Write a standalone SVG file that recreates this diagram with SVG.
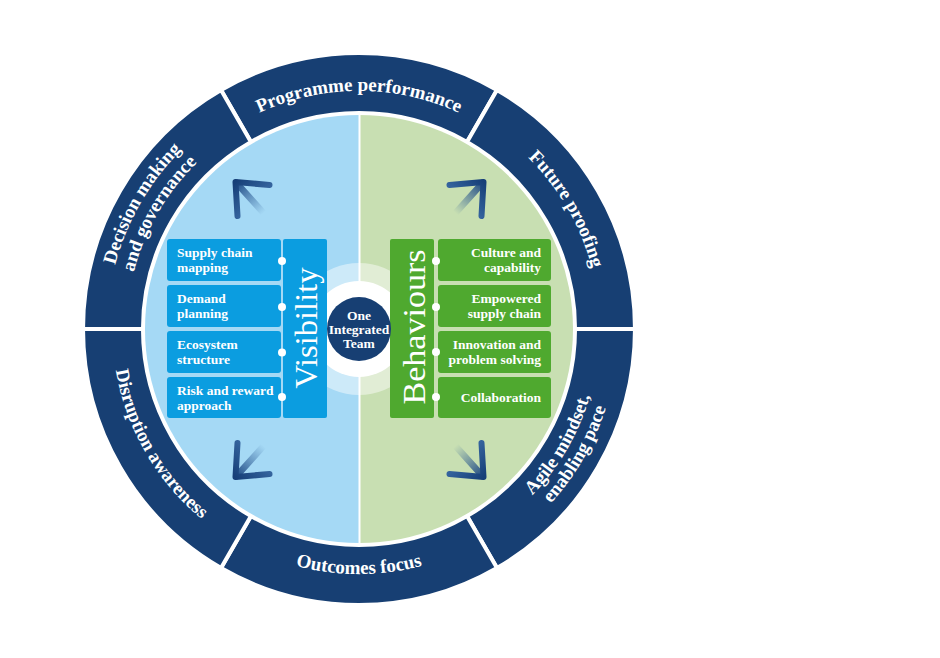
<svg xmlns="http://www.w3.org/2000/svg" xmlns:xlink="http://www.w3.org/1999/xlink" width="940" height="658" viewBox="0 0 940 658">
<style>
.seg{fill:#173f73;stroke:#fff;stroke-width:4}
.rt{font-family:"Liberation Serif","Times New Roman",serif;font-weight:bold;font-size:19px;fill:#fff}
.bt{font-family:"Liberation Serif","Times New Roman",serif;font-weight:bold;font-size:13.5px;fill:#fff}
.vt{font-family:"Liberation Serif","Times New Roman",serif;font-size:32px;fill:#fff}
.bb{fill:#0b9de0}
.gb{fill:#4fa92f}
.dot{fill:#fff}
.arm{fill:none;stroke:url(#armg);stroke-width:6;stroke-linecap:round;stroke-linejoin:round}
.shaft{fill:none;stroke:url(#shg);stroke-width:6.5;stroke-linecap:round}
</style>
<defs>
<path id="sector" d="M221 90 A276 276 0 0 1 497 90 L467 141.9 A216 216 0 0 0 251 141.9 Z"/>
<path id="cw238" d="M124.6 287.7 A238 238 0 0 1 593.4 287.7"/>
<path id="cw241" d="M121.7 287.2 A241 241 0 0 1 596.3 287.2"/>
<path id="cw252" d="M110.8 285.3 A252 252 0 0 1 607.2 285.3"/>
<path id="cw232" d="M130.5 288.7 A232 232 0 0 1 587.5 288.7"/>
<path id="ccw245" d="M117.7 371.5 A245 245 0 0 0 600.3 371.5"/>
<path id="ccw247" d="M115.8 371.9 A247 247 0 0 0 602.2 371.9"/>
<path id="ccw240" d="M122.6 370.7 A240 240 0 0 0 595.4 370.7"/>
<path id="ccw259" d="M103.9 374 A259 259 0 0 0 614.1 374"/>
<linearGradient id="armg" gradientUnits="userSpaceOnUse" x1="0" y1="0" x2="26" y2="26">
<stop offset="0" stop-color="#163f78"/><stop offset="1" stop-color="#3f70aa"/>
</linearGradient>
<linearGradient id="shg" gradientUnits="userSpaceOnUse" x1="0" y1="0" x2="28" y2="31">
<stop offset="0" stop-color="#1a4580" stop-opacity="1"/><stop offset="1" stop-color="#2a5a96" stop-opacity="0"/>
</linearGradient>
<g id="arrow">
<line class="shaft" x1="1" y1="1" x2="28" y2="31"/>
<polyline class="arm" points="34,3 0,0 2,34"/>
</g>
</defs>

<g id="ring">
<g id="programme-performance"><use href="#sector" class="seg"/><text class="rt"><textPath href="#cw238" startOffset="50%" text-anchor="middle">Programme performance</textPath></text></g>
<g id="future-proofing"><use href="#sector" class="seg" transform="rotate(60 359 329)"/><text class="rt" transform="rotate(60 359 329)"><textPath href="#cw241" startOffset="50%" text-anchor="middle">Future proofing</textPath></text></g>
<g id="agile-mindset"><use href="#sector" class="seg" transform="rotate(120 359 329)"/><text class="rt" transform="rotate(-60 359 329)"><textPath href="#ccw240" startOffset="50%" text-anchor="middle">Agile mindset,</textPath></text><text class="rt" transform="rotate(-60 359 329)"><textPath href="#ccw259" startOffset="50%" text-anchor="middle">enabling pace</textPath></text></g>
<g id="outcomes-focus"><use href="#sector" class="seg" transform="rotate(180 359 329)"/><text class="rt"><textPath href="#ccw245" startOffset="50%" text-anchor="middle">Outcomes focus</textPath></text></g>
<g id="disruption-awareness"><use href="#sector" class="seg" transform="rotate(240 359 329)"/><text class="rt" transform="rotate(60 359 329)"><textPath href="#ccw247" startOffset="50%" text-anchor="middle">Disruption awareness</textPath></text></g>
<g id="decision-making"><use href="#sector" class="seg" transform="rotate(300 359 329)"/><text class="rt" transform="rotate(-60 359 329)"><textPath href="#cw252" startOffset="50%" text-anchor="middle">Decision making</textPath></text><text class="rt" transform="rotate(-60 359 329)"><textPath href="#cw232" startOffset="50%" text-anchor="middle">and governance</textPath></text></g>
</g>

<g id="disk">
<path d="M359 115 A214 214 0 0 0 359 543 Z" fill="#a5d9f5"/>
<path d="M359 115 A214 214 0 0 1 359 543 Z" fill="#c8dfb2"/>
<line x1="359.5" y1="115" x2="359.5" y2="543" stroke="#fff" stroke-width="2"/>
<circle cx="359" cy="329" r="66" fill="#fff" fill-opacity="0.45"/>
<circle cx="359" cy="329" r="48" fill="#fff"/>
</g>

<g id="connectors">
<use href="#arrow" transform="translate(235.5 182)"/>
<use href="#arrow" transform="translate(483.5 182) scale(-1 1)"/>
<use href="#arrow" transform="translate(235.5 477) scale(1 -1)"/>
<use href="#arrow" transform="translate(483.5 477) scale(-1 -1)"/>
</g>

<g id="visibility">
<rect class="bb" x="283" y="239" width="44" height="179" rx="2"/>
<text class="vt" transform="translate(316.5 328) rotate(-90)" text-anchor="middle" textLength="121" lengthAdjust="spacingAndGlyphs">Visibility</text>
</g>
<g id="supply-chain-mapping"><rect class="bb" x="167" y="239" width="114" height="42" rx="3"/><text class="bt" x="177" y="256.5">Supply chain</text><text class="bt" x="177" y="271.5">mapping</text></g>
<g id="demand-planning"><rect class="bb" x="167" y="285" width="114" height="42" rx="3"/><text class="bt" x="177" y="302.5">Demand</text><text class="bt" x="177" y="317.5">planning</text></g>
<g id="ecosystem-structure"><rect class="bb" x="167" y="331" width="114" height="42" rx="3"/><text class="bt" x="177" y="348.5">Ecosystem</text><text class="bt" x="177" y="363.5">structure</text></g>
<g id="risk-and-reward"><rect class="bb" x="167" y="377" width="114" height="41" rx="3"/><text class="bt" x="177" y="394.5">Risk and reward</text><text class="bt" x="177" y="409.5">approach</text></g>

<g id="behaviours">
<rect class="gb" x="390" y="239" width="44" height="179" rx="2"/>
<text class="vt" transform="translate(425 327) rotate(-90)" text-anchor="middle" font-size="34" textLength="155" lengthAdjust="spacingAndGlyphs">Behaviours</text>
</g>
<g id="culture-and-capability"><rect class="gb" x="438" y="239" width="113" height="42" rx="3"/><text class="bt" x="541" y="256.5" text-anchor="end">Culture and</text><text class="bt" x="541" y="271.5" text-anchor="end">capability</text></g>
<g id="empowered-supply-chain"><rect class="gb" x="438" y="285" width="113" height="42" rx="3"/><text class="bt" x="541" y="302.5" text-anchor="end">Empowered</text><text class="bt" x="541" y="317.5" text-anchor="end">supply chain</text></g>
<g id="innovation"><rect class="gb" x="438" y="331" width="113" height="42" rx="3"/><text class="bt" x="541" y="348.5" text-anchor="end">Innovation and</text><text class="bt" x="541" y="363.5" text-anchor="end">problem solving</text></g>
<g id="collaboration"><rect class="gb" x="438" y="377" width="113" height="41" rx="3"/><text class="bt" x="541" y="401.5" text-anchor="end">Collaboration</text></g>

<g id="dots">
<circle class="dot" cx="282" cy="261" r="4"/><circle class="dot" cx="282" cy="307" r="4"/><circle class="dot" cx="282" cy="352.5" r="4"/><circle class="dot" cx="282" cy="397" r="4"/>
<circle class="dot" cx="436" cy="261" r="4"/><circle class="dot" cx="436" cy="307" r="4"/><circle class="dot" cx="436" cy="352" r="4"/><circle class="dot" cx="436" cy="397" r="4"/>
</g>

<g id="one-integrated-team">
<circle cx="359" cy="329" r="32" fill="#173f73"/>
<text class="bt" x="359" y="320" text-anchor="middle">One</text>
<text class="bt" x="359" y="334" text-anchor="middle">Integrated</text>
<text class="bt" x="359" y="348" text-anchor="middle">Team</text>
</g>
</svg>
